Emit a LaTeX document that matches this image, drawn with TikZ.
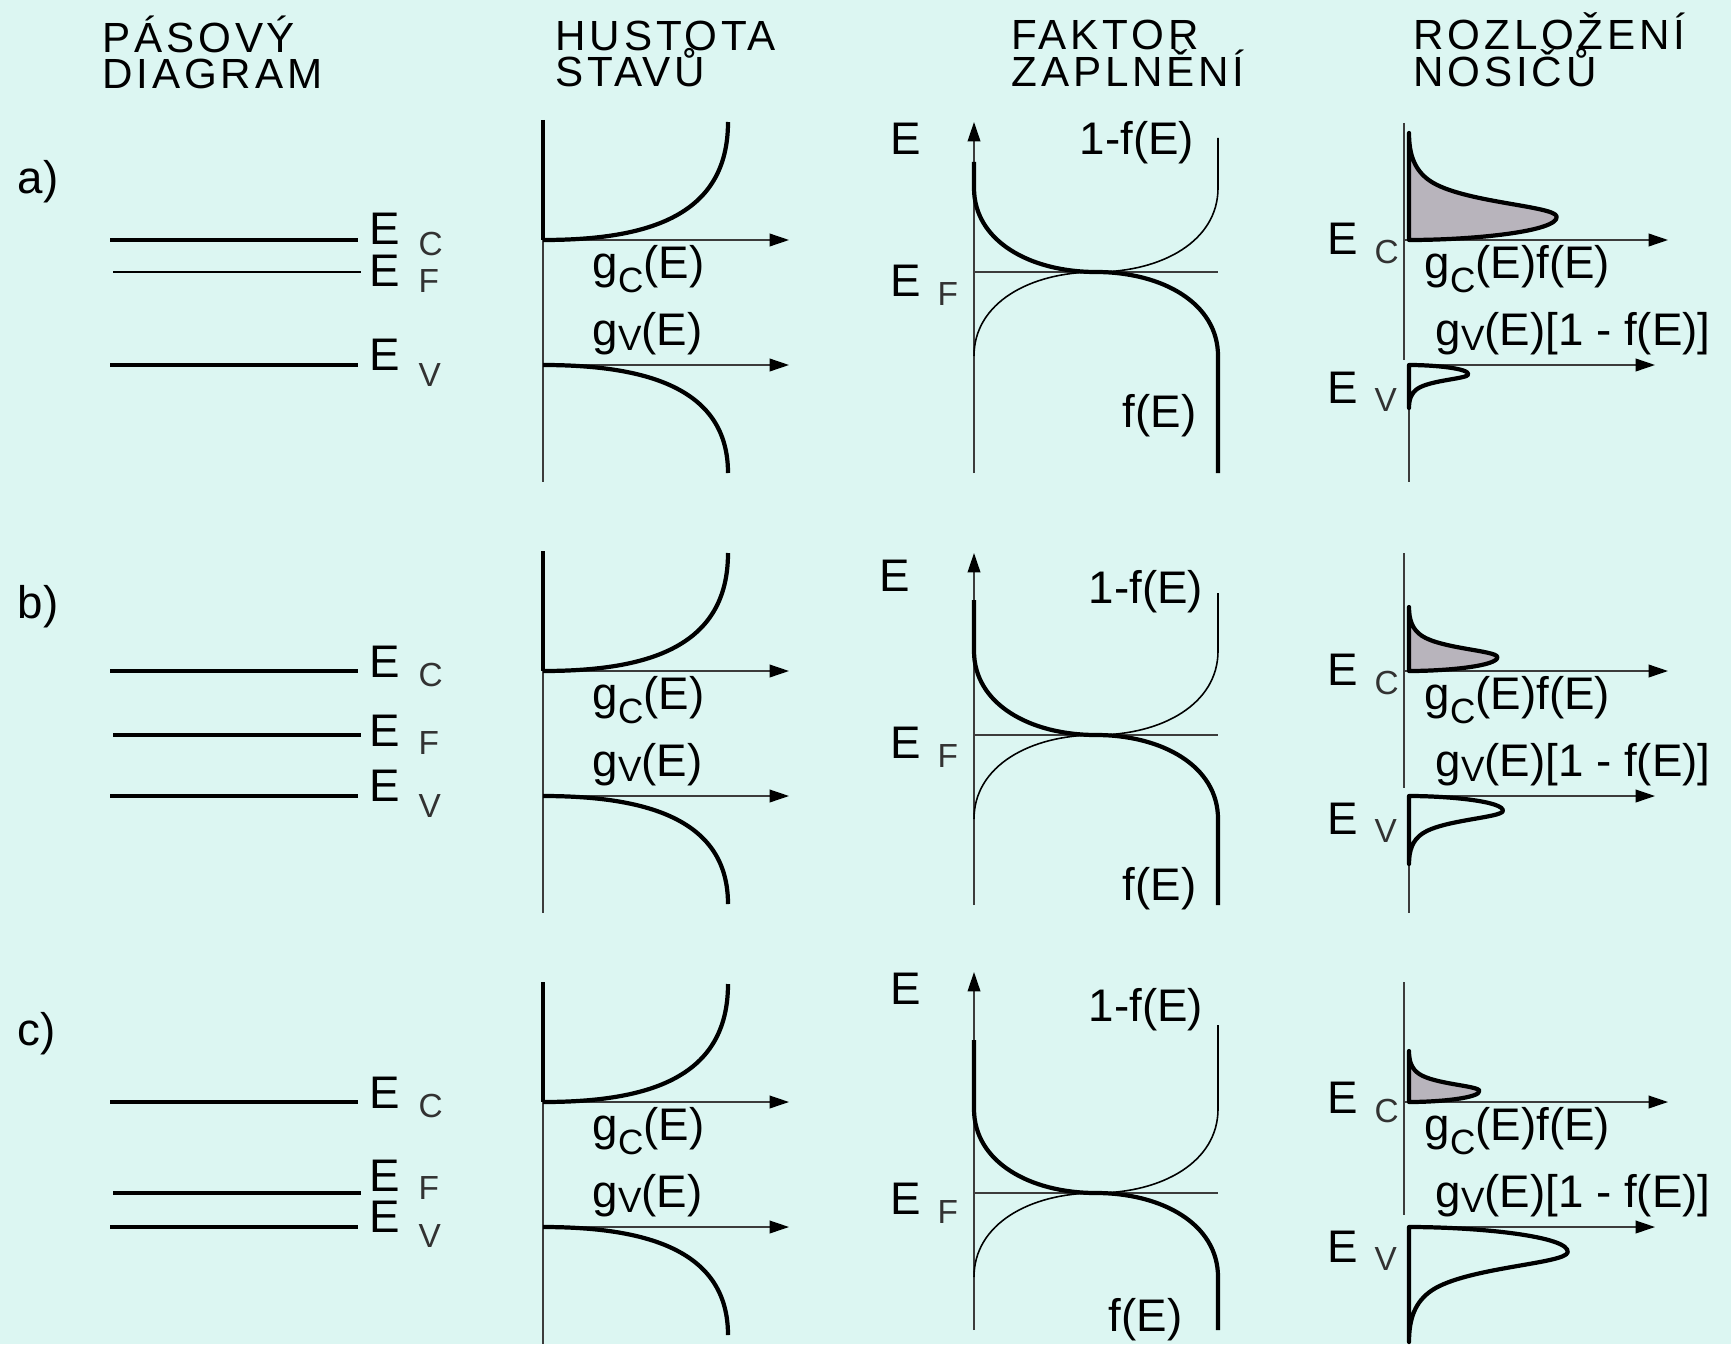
\documentclass[tikz,border=0pt]{standalone}
\usepackage{fontspec}
\setmainfont{Liberation Sans}
\newfontfamily\hdrfont[LetterSpace=9]{Liberation Sans}
\usetikzlibrary{arrows.meta}
\definecolor{bgcyan}{RGB}{220,246,242}
\definecolor{peakgray}{RGB}{184,180,188}
\definecolor{axisgray}{RGB}{60,60,60}
\definecolor{subgray}{RGB}{50,50,50}

\begin{document}
\begin{tikzpicture}[x=0.1mm, y=-0.1mm,
    lbl/.style={inner sep=0pt, anchor=base west, font=\fontsize{13}{15}\selectfont},
    sublbl/.style={inner sep=0pt, anchor=base west, text=subgray, font=\fontsize{9.5}{11}\selectfont},
    hdr/.style={inner sep=0pt, anchor=base west, font=\hdrfont\fontsize{12}{13}\selectfont},
    level/.style={line width=1.2pt},
    thinlevel/.style={line width=0.45pt},
    axis/.style={line width=0.45pt, draw=axisgray},
    arr/.style={axis, -{Triangle[length=5.5pt, width=3.6pt, color=black]}},
    curve/.style={line width=1.2pt},
    thincurve/.style={line width=0.45pt},
    peak/.style={line width=1.2pt, line join=round},
  ]
  % Parameters
  \def\ec{240}
  \def\ev{365}
  \def\peakpath{(0,0) .. controls (0.6,0) and (1.4,0.08) .. (1.38,0.22)
    .. controls (1.36,0.32) and (0.5,0.35) .. (0.2,0.55)
    .. controls (0.05,0.65) and (0,0.8) .. (0,1) -- cycle}
  \def\sgc{g\raisebox{-4pt}{\fontsize{10}{11}\selectfont C}}
  \def\sgv{g\raisebox{-1.5pt}{\fontsize{10}{11}\selectfont V}}

  % Background
  \fill[bgcyan] (0,0) rectangle (1731,1344);
  \useasboundingbox (0,0) rectangle (1731,1344);

  % Column headers
  \node[hdr] (bandhdr1) at (102,53) {PÁSOVÝ};
  \node[hdr] (bandhdr2) at (102,89) {DIAGRAM};
  \node[hdr] (doshdr1) at (555,51) {HUSTOTA};
  \node[hdr] (doshdr2) at (555,87) {STAVŮ};
  \node[hdr] (fermihdr1) at (1011,50) {FAKTOR};
  \node[hdr] (fermihdr2) at (1011,87) {ZAPLNĚNÍ};
  \node[hdr] (carrhdr1) at (1413,50) {ROZLOŽENÍ};
  \node[hdr] (carrhdr2) at (1413,87) {NOSIČŮ};

  % Row a) (n-type, E_F close to E_C)
  \begin{scope}
    \def\ef{272}
    \node[lbl] (rowa) at (17,193) {a)};
    % band diagram
    \draw[level] (110,\ec) -- (358,\ec);
    \draw[thinlevel] (113,\ef) -- (361,\ef);
    \draw[level] (110,\ev) -- (358,\ev);
    \node[lbl] (aEc) at (369,\ec+5) {E};
    \node[sublbl] (aEcs) at (418,\ec+15) {C};
    \node[lbl] (aEf) at (369,\ef+14) {E};
    \node[sublbl] (aEfs) at (418,\ef+20) {F};
    \node[lbl] (aEv) at (369,\ev+5) {E};
    \node[sublbl] (aEvs) at (418,\ev+21) {V};
    % density of states
    \draw[axis] (543,\ec) -- (543,482);
    \draw[curve] (543,120) -- (543,\ec);
    \draw[arr] (543,\ec) -- (789,\ec);
    \draw[arr] (543,\ev) -- (789,\ev);
    \draw[curve] (543,\ec) .. controls (650,\ec) and (728,\ec-25) .. (728,\ec-118);
    \draw[curve] (543,\ev) .. controls (650,\ev) and (728,\ev+25) .. (728,\ev+108);
    \node[lbl] (agc) at (592,278) {\sgc(E)};
    \node[lbl] (agv) at (592,345) {\sgv(E)};
    % occupation factor
    \draw[arr] (974,473) -- (974,122);
    \draw[axis] (974,\ef) -- (1218,\ef);
    \draw[thincurve] (1218,138) -- (1218,\ef-84) .. controls (1218,\ef-31) and (1162,\ef) .. (1096,\ef)
      .. controls (1030,\ef) and (974,\ef+31) .. (974,\ef+84);
    \draw[curve] (974,162) -- (974,\ef-84) .. controls (974,\ef-31) and (1030,\ef) .. (1096,\ef)
      .. controls (1162,\ef) and (1218,\ef+31) .. (1218,\ef+84) -- (1218,473);
    \node[lbl] (aE) at (890,155) {E};
    \node[lbl] (aEF) at (890,\ef+24) {E};
    \node[sublbl] (aEFs) at (937,\ef+33) {F};
    \node[lbl] (aomf) at (1079,155) {1-f(E)};
    \node[lbl] (af) at (1122,427) {f(E)};
    % carrier distribution
    \draw[axis] (1404,123) -- (1404,360);
    \draw[axis] (1409,\ev) -- (1409,482);
    \draw[arr] (1404,\ec) -- (1668,\ec);
    \draw[arr] (1409,\ev) -- (1655,\ev);
    \begin{scope}[shift={(1409,\ec)}, xscale=107, yscale=-107]
      \filldraw[peak, fill=peakgray] \peakpath;
    \end{scope}
    \begin{scope}[shift={(1409,\ev)}, xscale=43, yscale=43]
      \draw[peak] \peakpath;
    \end{scope}
    \node[lbl] (aEc2) at (1327,254) {E};
    \node[sublbl] (aEc2s) at (1374,263) {C};
    \node[lbl] (aEv2) at (1327,403) {E};
    \node[sublbl] (aEv2s) at (1374,411) {V};
    \node[lbl] (agcf) at (1424,278) {\sgc(E)f(E)};
    \node[lbl] (agvf) at (1435,345) {\sgv(E)[1 - f(E)]};
  \end{scope}

  % Row b) (intrinsic, E_F in the middle of the gap)
  \begin{scope}[shift={(0,431)}]
    \def\ef{304}
    \node[lbl] (rowb) at (17,187) {b)};
    % band diagram
    \draw[level] (110,\ec) -- (358,\ec);
    \draw[level] (113,\ef) -- (361,\ef);
    \draw[level] (110,\ev) -- (358,\ev);
    \node[lbl] (bEc) at (369,\ec+6) {E};
    \node[sublbl] (bEcs) at (418,\ec+15) {C};
    \node[lbl] (bEf) at (369,\ef+11) {E};
    \node[sublbl] (bEfs) at (418,\ef+19) {F};
    \node[lbl] (bEv) at (369,\ev+5) {E};
    \node[sublbl] (bEvs) at (418,\ev+21) {V};
    % density of states
    \draw[axis] (543,\ec) -- (543,482);
    \draw[curve] (543,120) -- (543,\ec);
    \draw[arr] (543,\ec) -- (789,\ec);
    \draw[arr] (543,\ev) -- (789,\ev);
    \draw[curve] (543,\ec) .. controls (650,\ec) and (728,\ec-25) .. (728,\ec-118);
    \draw[curve] (543,\ev) .. controls (650,\ev) and (728,\ev+25) .. (728,\ev+108);
    \node[lbl] (bgc) at (592,278) {\sgc(E)};
    \node[lbl] (bgv) at (592,345) {\sgv(E)};
    % occupation factor
    \draw[arr] (974,474) -- (974,122);
    \draw[axis] (974,\ef) -- (1218,\ef);
    \draw[thincurve] (1218,162) -- (1218,\ef-84) .. controls (1218,\ef-31) and (1162,\ef) .. (1096,\ef)
      .. controls (1030,\ef) and (974,\ef+31) .. (974,\ef+84);
    \draw[curve] (974,169) -- (974,\ef-84) .. controls (974,\ef-31) and (1030,\ef) .. (1096,\ef)
      .. controls (1162,\ef) and (1218,\ef+31) .. (1218,\ef+84) -- (1218,474);
    \node[lbl] (bE) at (879,160) {E};
    \node[lbl] (bEF) at (890,\ef+23) {E};
    \node[sublbl] (bEFs) at (937,\ef+32) {F};
    \node[lbl] (bomf) at (1088,172) {1-f(E)};
    \node[lbl] (bf) at (1122,469) {f(E)};
    % carrier distribution
    \draw[axis] (1404,122) -- (1404,357);
    \draw[axis] (1409,\ev) -- (1409,482);
    \draw[arr] (1404,\ec) -- (1668,\ec);
    \draw[arr] (1409,\ev) -- (1655,\ev);
    \begin{scope}[shift={(1409,\ec)}, xscale=64, yscale=-64]
      \filldraw[peak, fill=peakgray] \peakpath;
    \end{scope}
    \begin{scope}[shift={(1409,\ev)}, xscale=68, yscale=68]
      \draw[peak] \peakpath;
    \end{scope}
    \node[lbl] (bEc2) at (1327,254) {E};
    \node[sublbl] (bEc2s) at (1374,263) {C};
    \node[lbl] (bEv2) at (1327,403) {E};
    \node[sublbl] (bEv2s) at (1374,411) {V};
    \node[lbl] (bgcf) at (1424,278) {\sgc(E)f(E)};
    \node[lbl] (bgvf) at (1435,345) {\sgv(E)[1 - f(E)]};
  \end{scope}

  % Row c) (p-type, E_F close to E_V)
  \begin{scope}[shift={(0,862)}]
    \def\ef{331}
    \node[lbl] (rowc) at (17,183) {c)};
    % band diagram
    \draw[level] (110,\ec) -- (358,\ec);
    \draw[level] (113,\ef) -- (361,\ef);
    \draw[level] (110,\ev) -- (358,\ev);
    \node[lbl] (cEc) at (369,\ec+6) {E};
    \node[sublbl] (cEcs) at (418,\ec+15) {C};
    \node[lbl] (cEf) at (369,\ef-2) {E};
    \node[sublbl] (cEfs) at (418,\ef+6) {F};
    \node[lbl] (cEv) at (369,\ev+5) {E};
    \node[sublbl] (cEvs) at (418,\ev+20) {V};
    % density of states
    \draw[axis] (543,\ec) -- (543,482);
    \draw[curve] (543,120) -- (543,\ec);
    \draw[arr] (543,\ec) -- (789,\ec);
    \draw[arr] (543,\ev) -- (789,\ev);
    \draw[curve] (543,\ec) .. controls (650,\ec) and (728,\ec-25) .. (728,\ec-118);
    \draw[curve] (543,\ev) .. controls (650,\ev) and (728,\ev+25) .. (728,\ev+108);
    \node[lbl] (cgc) at (592,278) {\sgc(E)};
    \node[lbl] (cgv) at (592,345) {\sgv(E)};
    % occupation factor
    \draw[arr] (974,468) -- (974,110);
    \draw[axis] (974,\ef) -- (1218,\ef);
    \draw[thincurve] (1218,163) -- (1218,\ef-84) .. controls (1218,\ef-31) and (1162,\ef) .. (1096,\ef)
      .. controls (1030,\ef) and (974,\ef+31) .. (974,\ef+84);
    \draw[curve] (974,178) -- (974,\ef-84) .. controls (974,\ef-31) and (1030,\ef) .. (1096,\ef)
      .. controls (1162,\ef) and (1218,\ef+31) .. (1218,\ef+84) -- (1218,468);
    \node[lbl] (cE) at (890,142) {E};
    \node[lbl] (cEF) at (890,\ef+21) {E};
    \node[sublbl] (cEFs) at (937,\ef+30) {F};
    \node[lbl] (comf) at (1088,159) {1-f(E)};
    \node[lbl] (cf) at (1108,469) {f(E)};
    % carrier distribution
    \draw[axis] (1404,120) -- (1404,353);
    \draw[axis] (1409,\ev) -- (1409,482);
    \draw[arr] (1404,\ec) -- (1668,\ec);
    \draw[arr] (1409,\ev) -- (1655,\ev);
    \begin{scope}[shift={(1409,\ec)}, xscale=51, yscale=-51]
      \filldraw[peak, fill=peakgray] \peakpath;
    \end{scope}
    \begin{scope}[shift={(1409,\ev)}, xscale=115, yscale=115]
      \draw[peak] \peakpath;
    \end{scope}
    \node[lbl] (cEc2) at (1327,251) {E};
    \node[sublbl] (cEc2s) at (1374,260) {C};
    \node[lbl] (cEv2) at (1327,400) {E};
    \node[sublbl] (cEv2s) at (1374,408) {V};
    \node[lbl] (cgcf) at (1424,278) {\sgc(E)f(E)};
    \node[lbl] (cgvf) at (1435,345) {\sgv(E)[1 - f(E)]};
  \end{scope}
\end{tikzpicture}
\end{document}
